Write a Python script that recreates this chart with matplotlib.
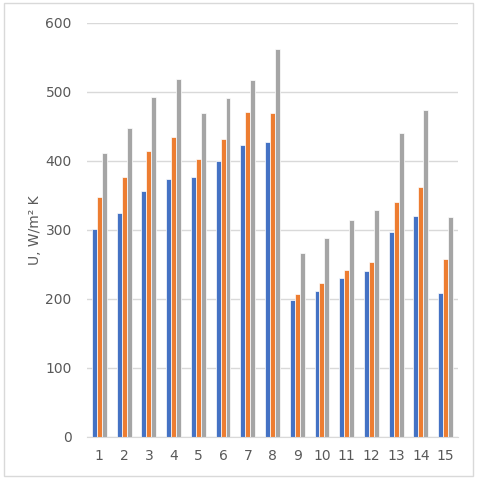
import numpy as np
import matplotlib
matplotlib.use("Agg")
import matplotlib.pyplot as plt
from matplotlib.patches import Rectangle

categories = [str(i) for i in range(1, 16)]
series_blue = [301, 325, 356, 373, 376, 399, 423, 427, 198, 212, 230, 241, 297, 320, 208]
series_orange = [348, 377, 414, 434, 403, 431, 471, 469, 207, 223, 242, 253, 340, 362, 258]
series_gray = [411, 447, 492, 518, 469, 491, 517, 562, 267, 288, 314, 329, 440, 474, 318]

colors = ["#4472C4", "#ED7D31", "#A5A5A5"]
text_color = "#595959"
grid_color = "#D9D9D9"

fig = plt.figure(figsize=(4.8, 4.8), dpi=100)
fig.patches.append(Rectangle((4 / 480, 4 / 480), 469 / 480, 473 / 480, transform=fig.transFigure,
                             fill=False, edgecolor=grid_color, linewidth=1))
ax = fig.add_axes([87 / 480, 1 - 437 / 480, (458 - 87) / 480, (437 - 22.7) / 480])

x = np.arange(len(categories))
w = 0.2
for i, vals in enumerate([series_blue, series_orange, series_gray]):
    ax.bar(x + (i - 1) * w, vals, width=w, color=colors[i], edgecolor="white", linewidth=0.5, zorder=3)

ax.set_xlim(-0.5, len(categories) - 0.5)
ax.set_ylim(0, 600)
ax.set_yticks(range(0, 601, 100))
ax.set_xticks(x)
ax.set_xticklabels(categories)
ax.grid(axis="y", color=grid_color, linewidth=1, zorder=0)
ax.tick_params(length=0, labelsize=10, colors=text_color)
ax.tick_params(axis="y", pad=11)
ax.tick_params(axis="x", pad=9)
for s in ["top", "right", "left"]:
    ax.spines[s].set_visible(False)
ax.spines["bottom"].set_color(grid_color)
ax.spines["bottom"].set_zorder(4)
ax.set_ylabel("U, W/m² K", fontsize=10, color=text_color)
ax.yaxis.set_label_coords(-0.122, 0.5)

fig.savefig("out.png", dpi=100)
